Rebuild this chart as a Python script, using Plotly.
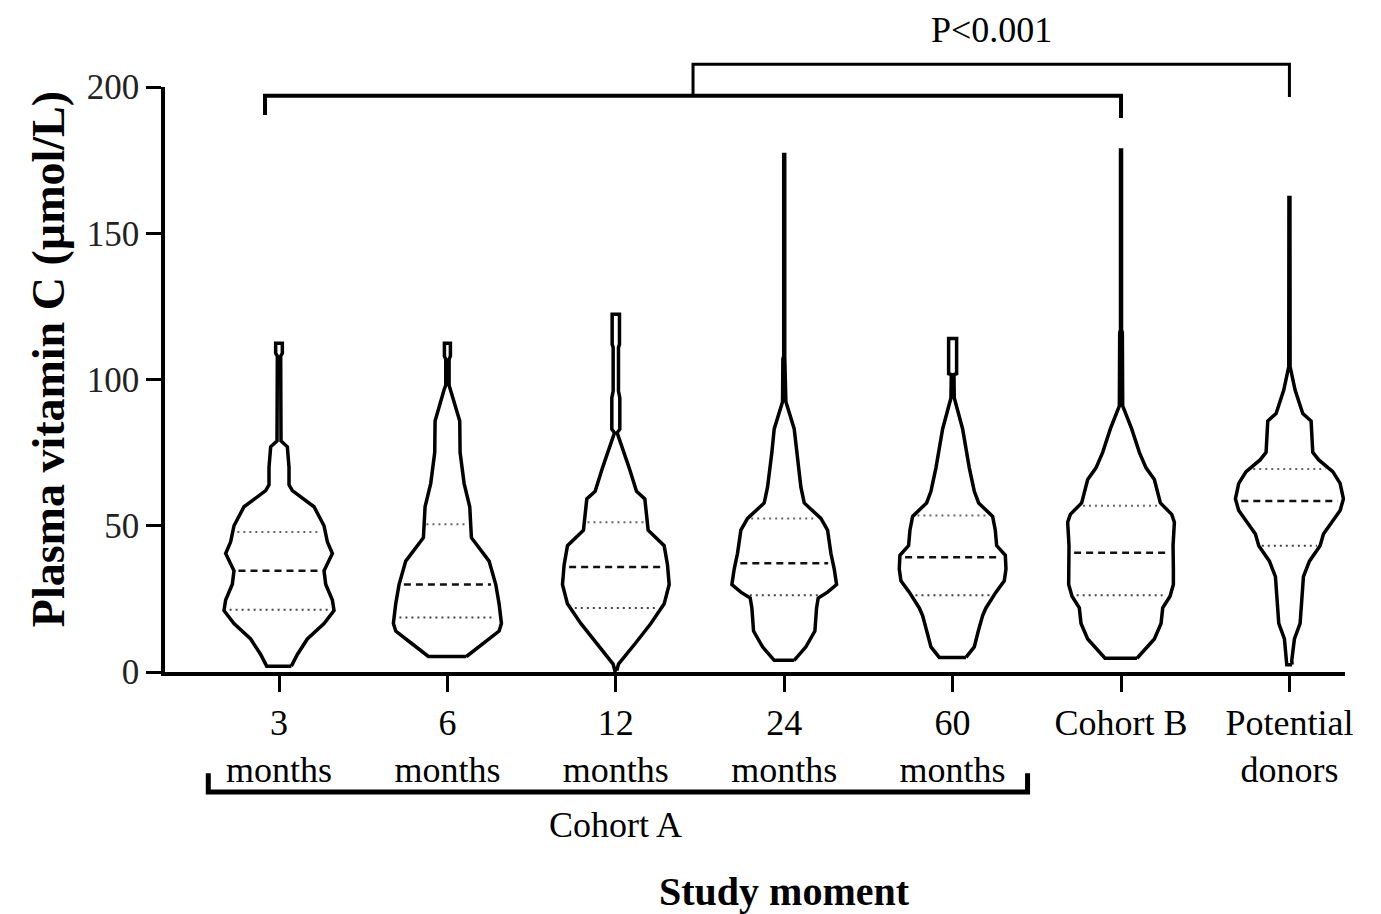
import numpy as np
import plotly.graph_objects as go

# ---------------- data ----------------
categories = ["3<br>months", "6<br>months", "12<br>months", "24<br>months",
              "60<br>months", "Cohort B", "Potential<br>donors"]

# violin outlines: vitamin C level (µmol/L) and relative density (half width)
lev_3m = [2, 6, 11.3, 16.6, 21, 24.6, 30, 34.6, 40.5, 44.5, 50, 56.5, 62, 64, 70, 77, 79, 95, 108, 109, 112.4]
den_3m = [37, 55, 85, 135, 165, 160, 140, 135, 160, 145, 135, 105, 40, 30, 30, 25, 6, 5, 5, 10, 10]

lev_6m = [5.3, 10, 14, 16.6, 23.3, 29.9, 37.9, 45.9, 56.5, 64.5, 75.1, 85.8, 96.5, 98, 107, 108, 112.4]
den_6m = [57, 110, 155, 162, 155, 145, 125, 72, 67, 50, 38, 37, 10, 5, 5, 9, 9]

lev_12m = [0.5, 2.7, 10, 16.6, 23.3, 29.9, 36.6, 43.2, 48.5, 59.2, 61.8, 69.8, 81.8, 83, 93.7, 96, 111, 112, 122.3]
den_12m = [3, 8, 60, 105, 145, 160, 155, 145, 97, 87, 62, 40, 4, 12, 12, 8, 8, 11, 11]

lev_24m = [4, 8.6, 14, 21.9, 25.3, 27.3, 29.9, 35.2, 40.6, 48.5, 52.5, 57.8, 63.2, 75.1, 83.1, 92.4, 107, 108, 176.9]
den_24m = [30, 65, 92, 97, 102, 130, 157, 150, 140, 130, 110, 60, 50, 37, 30, 5, 4, 1.5, 1.5]

lev_60m = [5, 8.6, 14, 19.3, 21.9, 27.3, 31.2, 35.2, 39.9, 43.2, 48.5, 53.2, 57.8, 61.8, 69.8, 76.5, 83.1, 93.7, 101.7, 102, 114]
den_60m = [40, 65, 77, 90, 100, 130, 155, 160, 158, 132, 128, 120, 78, 65, 50, 40, 30, 5, 4, 12, 12]

lev_cohort_b = [4.7, 11.3, 16.6, 21.9, 25.9, 29.9, 35.2, 43.2, 51.2, 53.9, 57.8, 61.8, 65.8, 69.8, 75.1, 83.1, 91, 116, 117, 178.5]
den_cohort_b = [48, 100, 120, 125, 147, 157, 157, 156, 160, 152, 118, 108, 100, 75, 55, 32, 5, 4, 1.5, 1.5]

lev_donors = [2.5, 4, 11.3, 16.6, 24.6, 32.6, 37.9, 43.2, 47.2, 51.2, 55.2, 59.2, 64.5, 68.5, 72.5, 75.1, 85.8, 88.4, 96.4, 104.4, 162.2]
den_donors = [8, 7, 15, 32, 37, 42, 60, 92, 102, 127, 152, 162, 152, 130, 88, 70, 65, 40, 17, 2, 1.5]

q1_values = [21.3, 18.6, 21.9, 26.2, 26.2, 26.2, 43.2]
median_values = [34.6, 29.9, 35.9, 37.2, 39.2, 40.8, 58.5]
q3_values = [47.9, 50.5, 51.2, 52.5, 53.5, 56.8, 69.4]

y_ticks = [0, 50, 100, 150, 200]

# ---------------- styling ----------------
FONT = "Liberation Serif, Times New Roman, serif"
WIDTH_SCALE = 1 / 505.0     # density units -> category units
violins = [(lev_3m, den_3m), (lev_6m, den_6m), (lev_12m, den_12m),
           (lev_24m, den_24m), (lev_60m, den_60m),
           (lev_cohort_b, den_cohort_b), (lev_donors, den_donors)]

fig = go.Figure()
for i, (lev, den) in enumerate(violins):
    lev = np.asarray(lev, float)
    hw = np.asarray(den, float) * WIDTH_SCALE
    xs = np.concatenate([i + hw, (i - hw)[::-1], [i + hw[0]]])
    ys = np.concatenate([lev, lev[::-1], [lev[0]]])
    fig.add_trace(go.Scatter(x=xs, y=ys, mode="lines",
                             line=dict(color="black", width=3.5),
                             hoverinfo="skip", showlegend=False))
    for val, dash, width, color in [
        (q1_values[i], "2px,4px", 2, "#444"),
        (median_values[i], "7px,5px", 2.5, "#111"),
        (q3_values[i], "2px,4px", 2, "#666"),
    ]:
        h = np.interp(val, lev, hw) * 0.9
        fig.add_trace(go.Scatter(x=[i - h, i + h], y=[val, val], mode="lines",
                                 line=dict(color=color, width=width, dash=dash),
                                 hoverinfo="skip", showlegend=False))

# brackets
n = len(categories)
low_left = 0 - 0.083
low_right = n - 2
low_mid = (low_left + low_right) / 2
up_right = n - 1
shapes = [
    dict(type="path", xref="x", yref="paper",
         path=f"M {low_left},0.952 L {low_left},0.985 L {low_right},0.985 L {low_right},0.947",
         line=dict(color="black", width=4)),
    dict(type="path", xref="x", yref="paper",
         path=f"M {low_mid},0.985 L {low_mid},1.039 L {up_right},1.039 L {up_right},0.983",
         line=dict(color="black", width=3)),
    dict(type="path", xref="x", yref="paper",
         path=f"M {0 - 0.42},-0.173 L {0 - 0.42},-0.205 L {4 + 0.445},-0.205 L {4 + 0.445},-0.173",
         line=dict(color="black", width=5)),
]

annotations = [
    dict(text="P<0.001", xref="x", yref="paper", x=(low_mid + up_right) / 2, y=1.097,
         showarrow=False, font=dict(family=FONT, size=36, color="black"),
         xanchor="center", yanchor="middle"),
    dict(text="Cohort A", xref="x", yref="paper", x=2, y=-0.262,
         showarrow=False, font=dict(family=FONT, size=36, color="black"),
         xanchor="center", yanchor="middle"),
    dict(text="<b>Study moment</b>", xref="x", yref="paper", x=3, y=-0.375,
         showarrow=False, font=dict(family=FONT, size=40, color="black"),
         xanchor="center", yanchor="middle"),
    dict(text="<b>Plasma vitamin C (µmol/L)</b>", xref="paper", yref="paper",
         x=-0.099, y=0.535, textangle=-90, showarrow=False,
         font=dict(family=FONT, size=46, color="black"),
         xanchor="center", yanchor="middle"),
]

# the page body has an 8px margin, so the figure is 8px smaller and margins shifted
fig.update_layout(
    width=1373, height=906, autosize=False,
    margin=dict(l=157, r=36, t=79, b=242),
    paper_bgcolor="white", plot_bgcolor="white",
    font=dict(family=FONT, color="black"),
    shapes=shapes, annotations=annotations,
    xaxis=dict(range=[-0.677, 6.33], tickmode="array",
               tickvals=list(range(n)), ticktext=categories,
               showline=True, linecolor="black", linewidth=3.5,
               ticks="outside", ticklen=16, tickwidth=3, tickcolor="black",
               tickfont=dict(family=FONT, size=36, color="black"),
               showgrid=False, zeroline=False),
    yaxis=dict(range=[0, 200], tickmode="array", tickvals=y_ticks,
               showline=True, linecolor="black", linewidth=3.5,
               ticks="outside", ticklen=15, tickwidth=3, tickcolor="black",
               tickfont=dict(family=FONT, size=35, color="#222"),
               showgrid=False, zeroline=False),
)

fig.write_html("out.html")
